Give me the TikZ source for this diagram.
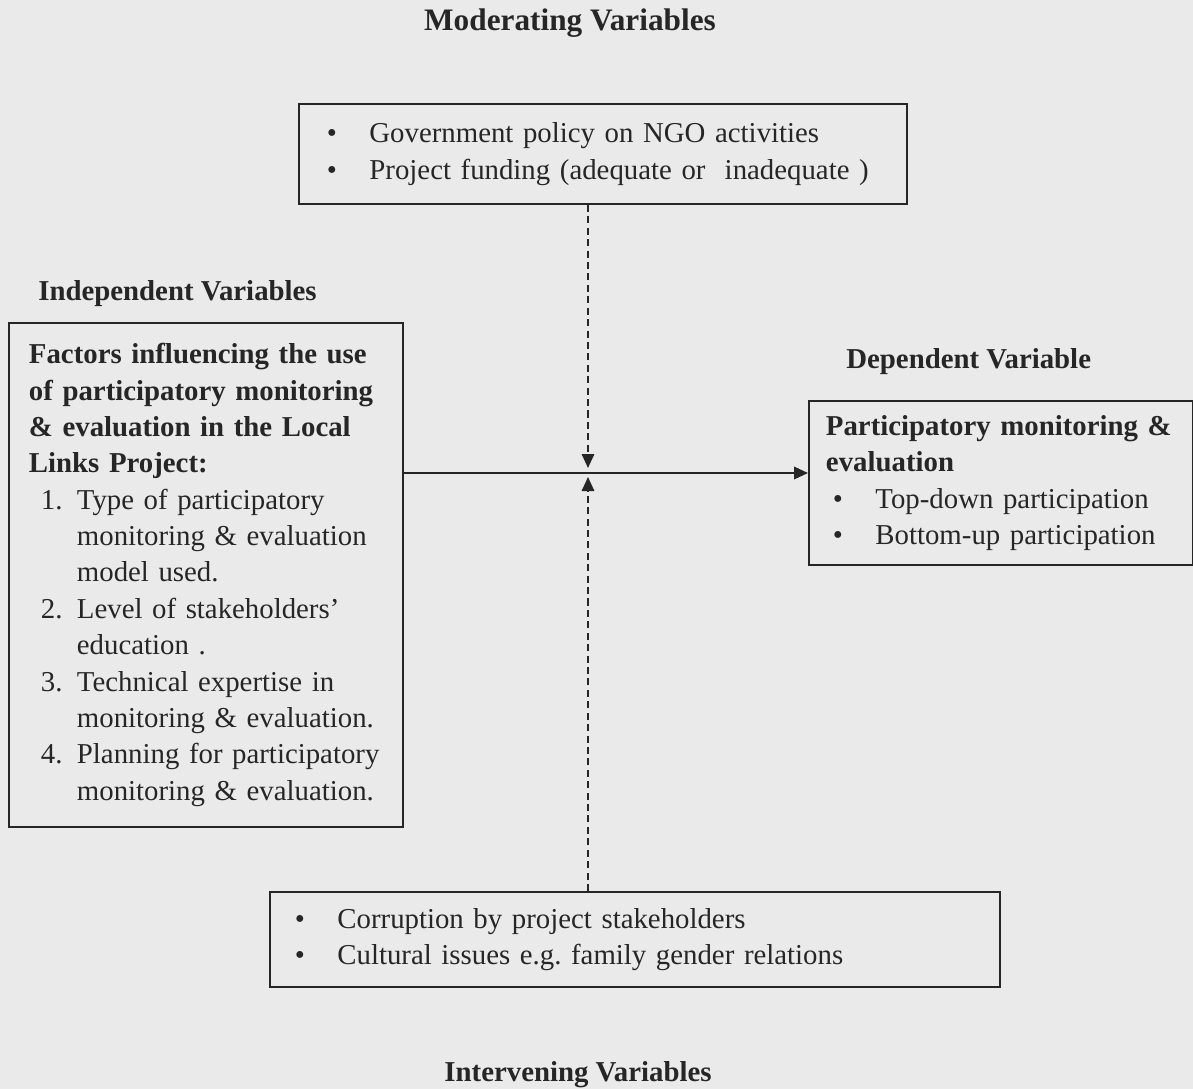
\documentclass[tikz,border=0pt]{standalone}
\usepackage{fontspec}
\setmainfont{Liberation Serif}
\usetikzlibrary{arrows.meta,positioning}
\definecolor{paper}{RGB}{234,234,234}
\definecolor{ink}{RGB}{38,38,38}
\newcommand{\bul}[2][0cm]{\hspace*{#1}\makebox[0.85cm][l]{\textbullet}#2}
\newcommand{\numitem}[1]{\hspace*{0.24cm}\makebox[0.72cm][l]{#1}}
\newcommand{\wrapitem}{\hspace*{0.96cm}}

\begin{document}
\begin{tikzpicture}[x=0.02cm,y=-0.02cm,
    var box/.style={draw=ink,line width=1.1pt,anchor=north west,align=left,text=ink,
      font=\fontsize{16.4}{20.7}\selectfont},
    var head/.style={text=ink,inner sep=0pt,font=\fontsize{16.4}{20.7}\selectfont\bfseries},
    link/.style={draw=ink,line width=1.1pt,-{Triangle[length=0.28cm,width=0.25cm]}},
    hint/.style={dash pattern=on 4pt off 2.5pt,line width=0.9pt}]

    \fill[paper] (0,0) rectangle (1193,1089);
    \useasboundingbox (0,0) rectangle (1193,1089);

    \node[var box,minimum width=12.16cm,minimum height=2cm,text width=11.04cm,inner xsep=0.56cm] (modbox) at (298,103)
      {\bul{Government policy on NGO activities}\\
       \bul{Project funding (adequate or\ \ inadequate )}};

    \node[var box,minimum width=7.88cm,minimum height=10.08cm,text width=7.08cm,inner xsep=0.4cm] (indbox) at (8,322)
      {\textbf{Factors influencing the use}\\
       \textbf{of participatory monitoring}\\
       \textbf{\& evaluation in the Local}\\
       \textbf{Links Project:}\\
       \numitem{1.}Type of participatory\\
       \wrapitem monitoring \& evaluation\\
       \wrapitem model used.\\
       \numitem{2.}Level of stakeholders'\\
       \wrapitem education .\\
       \numitem{3.}Technical expertise in\\
       \wrapitem monitoring \& evaluation.\\
       \numitem{4.}Planning for participatory\\
       \wrapitem monitoring \& evaluation.};

    \node[var box,minimum width=7.68cm,minimum height=3.28cm,text width=7.0cm,inner xsep=0.34cm] (depbox) at (808,400)
      {\textbf{Participatory monitoring \&}\\
       \textbf{evaluation}\\
       \bul[0.14cm]{Top-down participation}\\
       \bul[0.14cm]{Bottom-up participation}};

    \node[var box,minimum width=14.6cm,minimum height=1.9cm,text width=13.6cm,inner xsep=0.5cm] (intbox) at (269,891)
      {\bul{Corruption by project stakeholders}\\
       \bul{Cultural issues e.g.\ family gender relations}};

    % headings
    \node[var head,font=\fontsize{17.8}{21}\selectfont\bfseries] (modlbl) at (570,23) {Moderating Variables};
    \node[var head,anchor=west] (indlbl) at (38,294) {Independent Variables};
    \node[var head,anchor=west] (deplbl) at (846,362) {Dependent Variable};
    \node[var head] (intlbl) at (578,1075) {Intervening Variables};

    \coordinate (meet) at (588,473);

    \path
    (indbox.east |- meet) edge[link] (depbox.west |- meet)
    (modbox.south -| meet) edge[link,hint] ([yshift=0.1cm]meet)
    (intbox.north -| meet) edge[link,hint] ([yshift=-0.08cm]meet);
\end{tikzpicture}
\end{document}
